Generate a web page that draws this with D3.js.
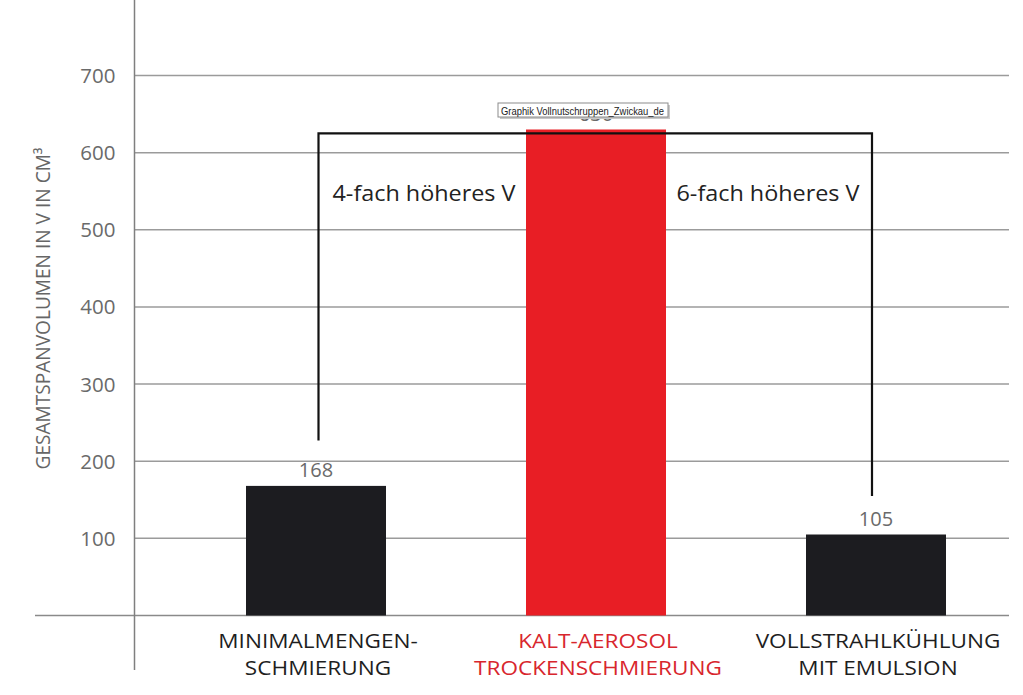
<!DOCTYPE html>
<html><head><meta charset="utf-8">
<script src="https://cdn.jsdelivr.net/npm/d3@7"></script>
<style>html,body{margin:0;padding:0;background:#fff;}svg{display:block;}</style>
</head><body>
<svg id="chart" width="1023" height="695"></svg>
<script>
// ---- data ----
const categories = ["MINIMALMENGEN-\nSCHMIERUNG", "KALT-AEROSOL\nTROCKENSCHMIERUNG", "VOLLSTRAHLKÜHLUNG\nMIT EMULSION"];
const values = [168, 630, 105];
const barColors = ["#1c1c20", "#e81e25", "#1c1c20"];
const labelColors = ["#1e1e1e", "#d8262d", "#1e1e1e"];
const tickValues = [100, 200, 300, 400, 500, 600, 700];
const yTitle = "GESAMTSPANVOLUMEN IN V IN CM³";
const annotations = ["4-fach höheres V", "6-fach höheres V"];
const bracketTop = 625;          // value level of the bracket's top line
const bracketEnds = [227, 155];  // value level where the bracket legs end
const tooltipText = "Graphik Vollnutschruppen_Zwickau_de";

// ---- scales ----
const svg = d3.select("#chart");
const y = d3.scaleLinear().domain([0, 700]).range([615.5, 75.5]);
const x = d3.scaleBand().domain(categories).range([176, 1016]).paddingInner(0.5).paddingOuter(0.25);
const axisX = 134.5, gridRight = 1009;

// gridlines
svg.append("g").selectAll("line").data(tickValues).join("line")
  .attr("x1", axisX).attr("x2", gridRight)
  .attr("y1", d => y(d)).attr("y2", d => y(d))
  .attr("stroke", "#9b9b9b").attr("stroke-width", 1.5);

// baseline
svg.append("line").attr("x1", 35).attr("x2", gridRight)
  .attr("y1", y(0)).attr("y2", y(0)).attr("stroke", "#8a8a8a").attr("stroke-width", 1.5);

// y axis
const yAxis = d3.axisLeft(y).tickValues(tickValues).tickSize(0).tickPadding(19);
const gAxis = svg.append("g").attr("transform", `translate(${axisX},0)`).call(yAxis);
gAxis.select(".domain").remove();
gAxis.selectAll("text").attr("font-family", "'Open Sans', sans-serif").attr("font-size", 20.5)
  .attr("fill", "#6a6a6a").attr("dy", "0.34em");
svg.append("line").attr("x1", axisX).attr("x2", axisX).attr("y1", 0).attr("y2", 670)
  .attr("stroke", "#7f7f7f").attr("stroke-width", 1.5);

// y title
svg.append("text").attr("transform", `translate(50,${(147 + 470) / 2}) rotate(-90)`)
  .attr("text-anchor", "middle").attr("font-family", "'Open Sans', sans-serif").attr("font-size", 20)
  .attr("fill", "#666").attr("textLength", 322).attr("lengthAdjust", "spacingAndGlyphs")
  .text(yTitle);

// bars
svg.append("g").selectAll("rect").data(values).join("rect")
  .attr("x", (d, i) => x(categories[i])).attr("width", x.bandwidth())
  .attr("y", d => y(d)).attr("height", d => y(0) - y(d))
  .attr("fill", (d, i) => barColors[i]);

// value labels
svg.append("g").selectAll("text").data(values).join("text")
  .attr("x", (d, i) => x(categories[i]) + x.bandwidth() / 2)
  .attr("y", d => y(d) - 9)
  .attr("text-anchor", "middle").attr("font-family", "'Open Sans', sans-serif").attr("font-size", 20)
  .attr("fill", "#6a6a6a").text(d => d);

// category labels (two lines each, slightly stretched horizontally)
const catG = svg.append("g");
categories.forEach((d, i) => {
  const cx = x(d) + x.bandwidth() / 2 + 2;
  d.split("\n").forEach((line, j) => {
    catG.append("text")
      .attr("transform", `translate(${cx},${648 + j * 27}) scale(1.13,1)`)
      .attr("text-anchor", "middle").attr("font-family", "'Open Sans', sans-serif").attr("font-size", 20)
      .attr("fill", labelColors[i]).text(line);
  });
});

// bracket
const c0 = x(categories[0]) + x.bandwidth() / 2 + 2.5;
const c2 = x(categories[2]) + x.bandwidth() / 2 - 4;
const bracketPath = d3.path();
bracketPath.moveTo(c0, y(bracketEnds[0]));
bracketPath.lineTo(c0, y(bracketTop));
bracketPath.lineTo(c2, y(bracketTop));
bracketPath.lineTo(c2, y(bracketEnds[1]));
svg.append("path").attr("d", bracketPath.toString()).attr("fill", "none")
  .attr("stroke", "#111").attr("stroke-width", 2.2);

// annotations
svg.append("text").attr("x", 424).attr("y", 201).attr("text-anchor", "middle")
  .attr("font-family", "'Open Sans', sans-serif").attr("font-size", 21).attr("fill", "#222")
  .attr("textLength", 183).attr("lengthAdjust", "spacingAndGlyphs").text(annotations[0]);
svg.append("text").attr("x", 768).attr("y", 201).attr("text-anchor", "middle")
  .attr("font-family", "'Open Sans', sans-serif").attr("font-size", 21).attr("fill", "#222")
  .attr("textLength", 183).attr("lengthAdjust", "spacingAndGlyphs").text(annotations[1]);

// tooltip box
const tip = svg.append("g");
tip.append("rect").attr("x", 500).attr("y", 105).attr("width", 170).attr("height", 14).attr("fill", "#c8c8c8");
tip.append("rect").attr("x", 498).attr("y", 103).attr("width", 170).attr("height", 14)
  .attr("fill", "#fff").attr("stroke", "#8c8c8c").attr("stroke-width", 1);
tip.append("text").attr("x", 501).attr("y", 114.5).attr("font-family", "'Liberation Sans', Arial, sans-serif")
  .attr("font-size", 11).attr("fill", "#222").attr("textLength", 163).attr("lengthAdjust", "spacingAndGlyphs")
  .text(tooltipText);
</script>
</body></html>
